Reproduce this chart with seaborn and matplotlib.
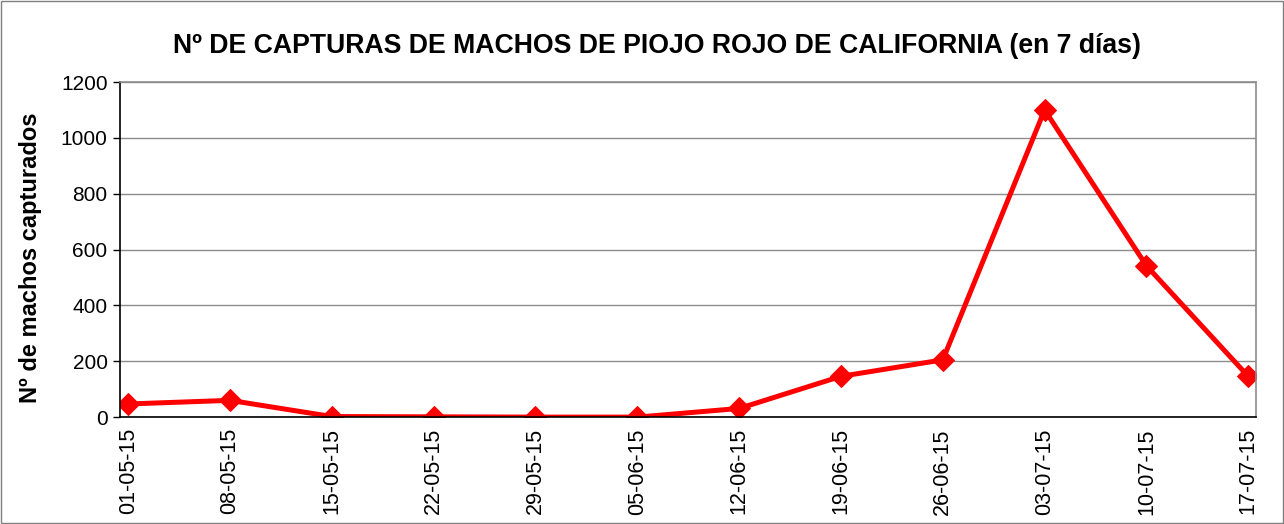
import numpy as np
import pandas as pd
import matplotlib
matplotlib.use("Agg")
import matplotlib.pyplot as plt
import seaborn as sns
from matplotlib.patches import Rectangle

fechas = ["01-05-15", "08-05-15", "15-05-15", "22-05-15", "29-05-15", "05-06-15",
          "12-06-15", "19-06-15", "26-06-15", "03-07-15", "10-07-15", "17-07-15"]
capturas = [47, 60, 2, 1, 0, 0, 31, 146, 205, 1100, 542, 146]

titulo = "Nº DE CAPTURAS DE MACHOS DE PIOJO ROJO DE CALIFORNIA (en 7 días)"
etiqueta_y = "Nº de machos capturados"

sns.set_style("white")
plt.rcParams["font.family"] = ["Liberation Sans", "DejaVu Sans"]
plt.rcParams["text.color"] = "black"
plt.rcParams["axes.labelcolor"] = "black"
plt.rcParams["xtick.color"] = "black"
plt.rcParams["ytick.color"] = "black"

df = pd.DataFrame({"fecha": fechas, "capturas": capturas})

fig = plt.figure(figsize=(12.84, 5.24), dpi=100)
ax = fig.add_axes([0.0935, 0.204, 0.885, 0.6395])

sns.lineplot(data=df, x="fecha", y="capturas", ax=ax, color="#ff0000",
             linewidth=3.6, marker="D", markersize=11.5, markeredgecolor="#ff0000")

ax.set_xlim(-0.08, len(fechas) - 1 + 0.08)
ax.set_ylim(0, 1200)
ax.set_yticks(np.arange(0, 1201, 200))
ax.yaxis.grid(True, color="#8c8c8c", linewidth=1)
ax.set_axisbelow(True)

ax.tick_params(axis="y", direction="out", length=5, width=1, color="black",
               labelsize=15, pad=4, left=True)
ax.tick_params(axis="x", length=0, labelsize=15.5, pad=8, labelrotation=90)

for side in ["left", "bottom"]:
    ax.spines[side].set_color("black")
    ax.spines[side].set_linewidth(1.2)
for side in ["top", "right"]:
    ax.spines[side].set_color("#8c8c8c")
    ax.spines[side].set_linewidth(1.2)

ax.set_xlabel("")
ax.set_ylabel(etiqueta_y, fontsize=17, fontweight="bold")
ax.yaxis.set_label_coords(-0.069, 0.476)

fig.text(0.512, 0.912, titulo, ha="center", va="center", fontsize=19.2,
         fontweight="bold")

fig.patches.append(Rectangle((0.001, 0.001), 0.998, 0.997, transform=fig.transFigure,
                             fill=False, edgecolor="#7f7f7f", linewidth=1))

fig.savefig("out.png", dpi=100)
